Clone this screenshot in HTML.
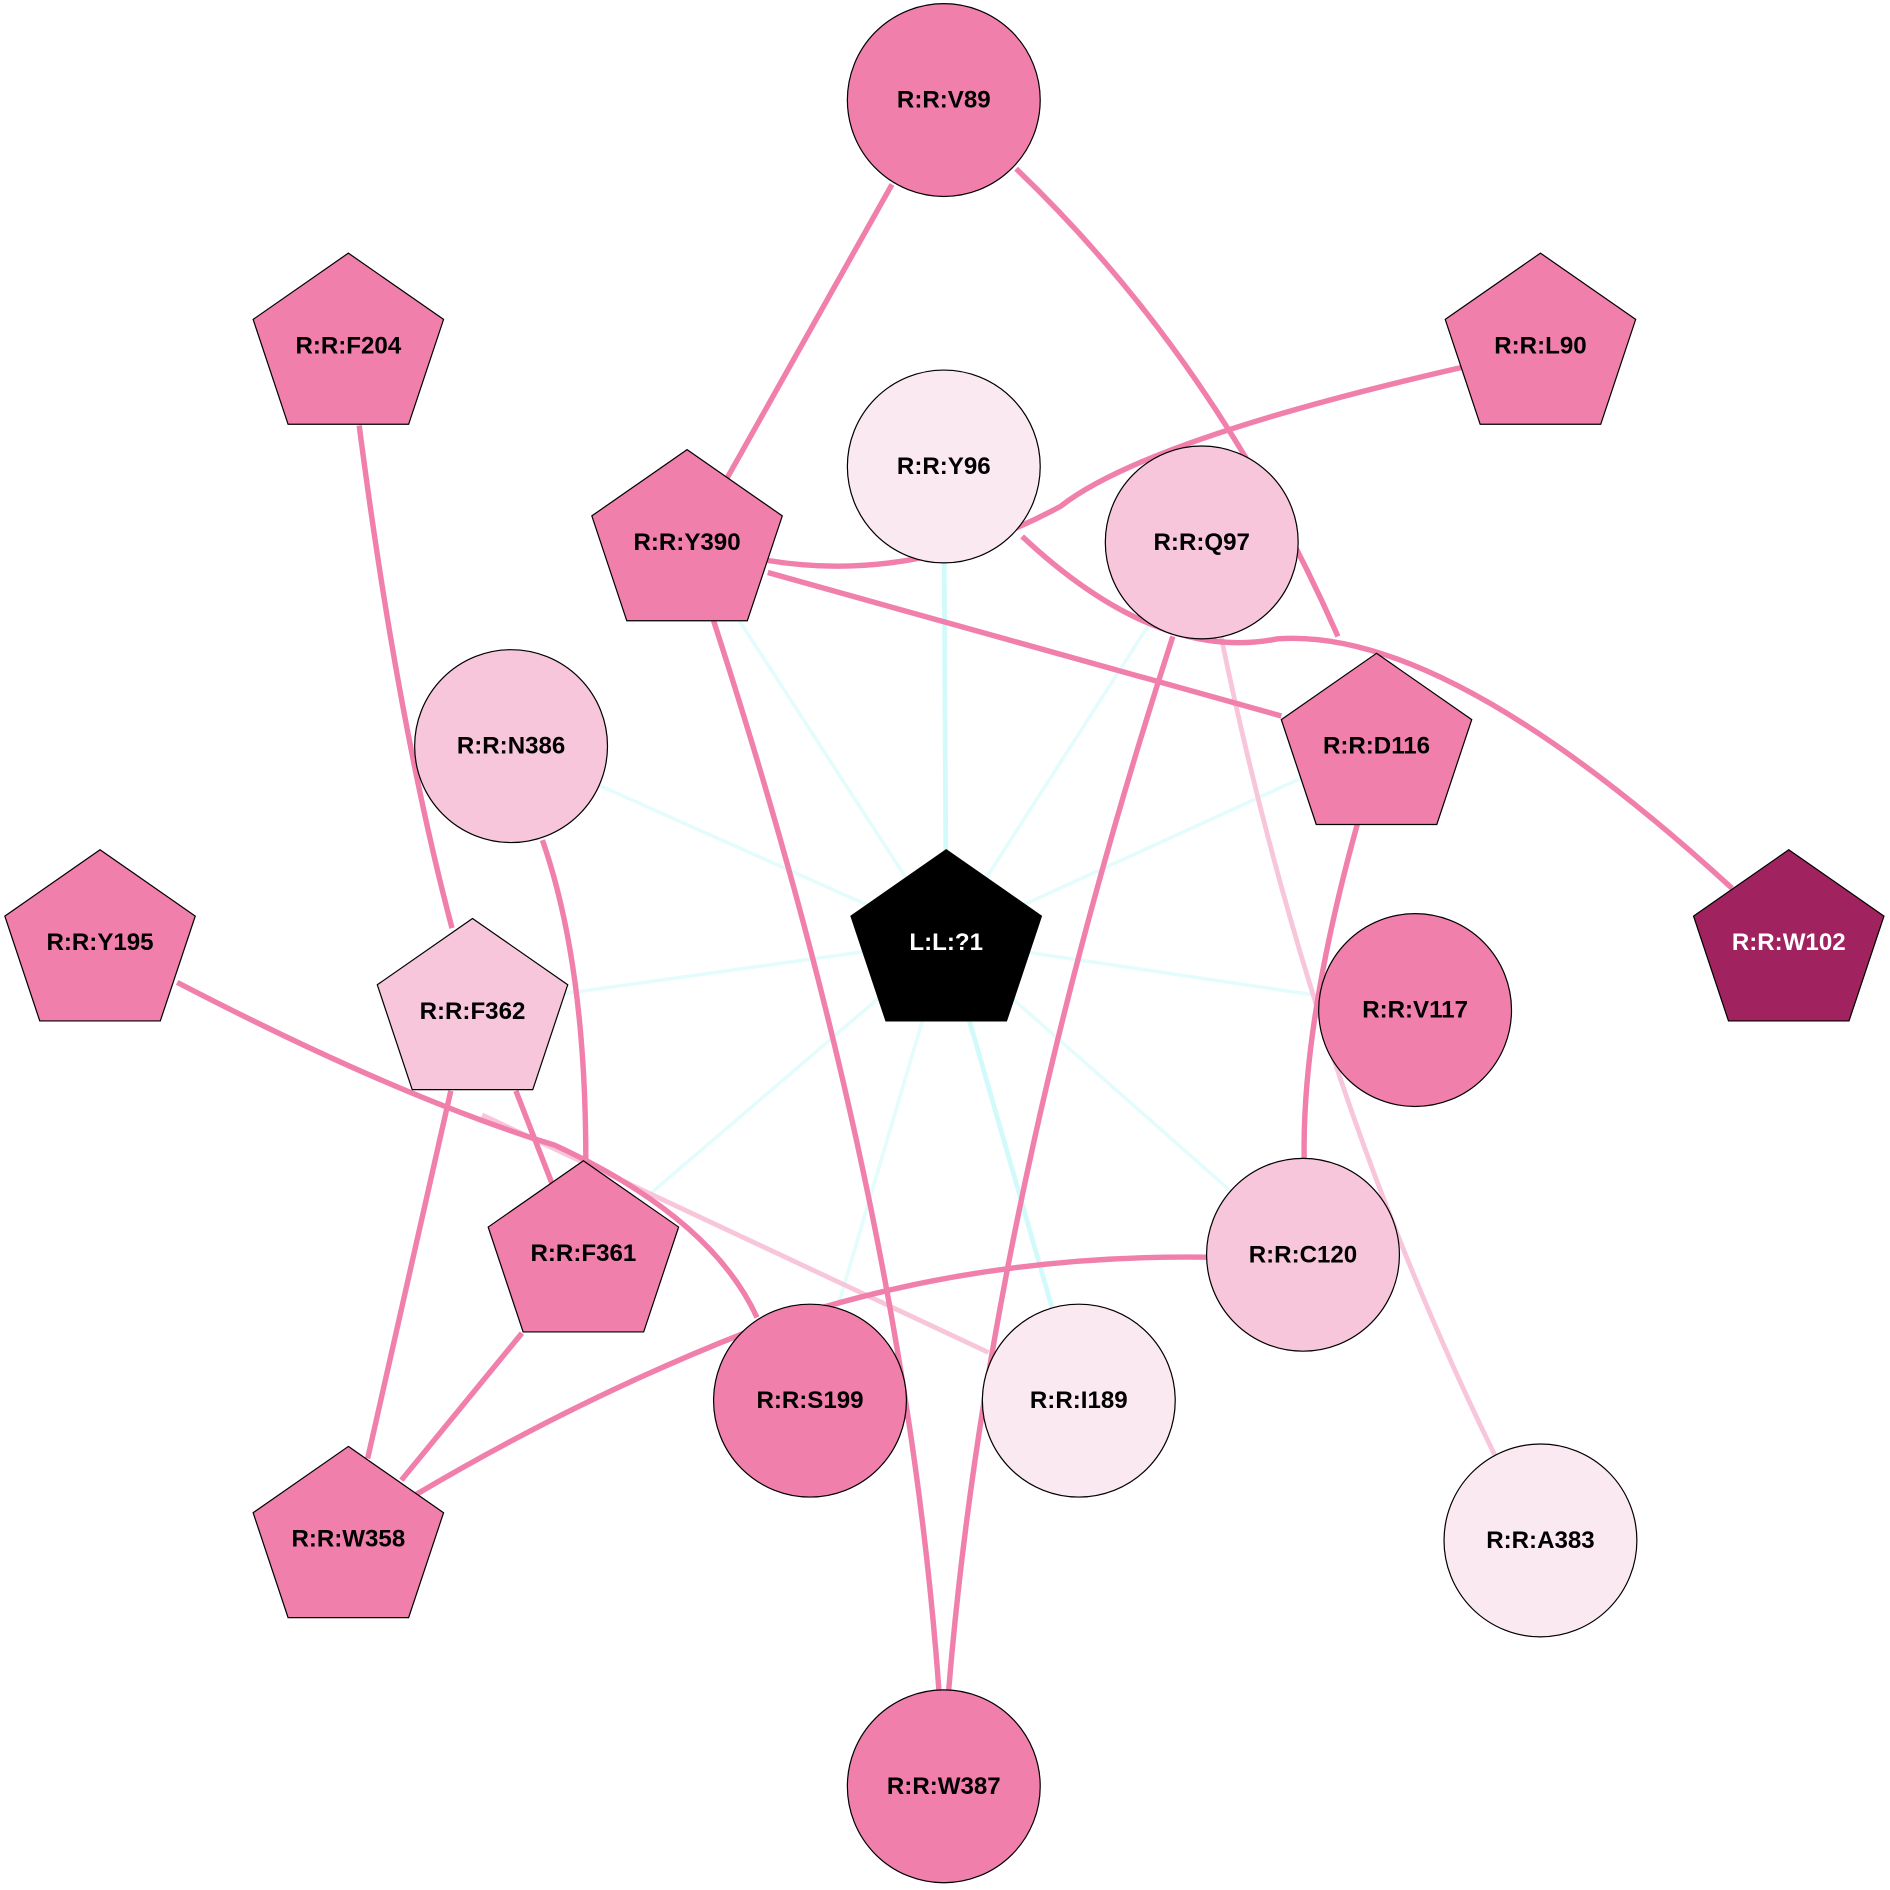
<!DOCTYPE html>
<html><head><meta charset="utf-8"><style>
html,body{margin:0;padding:0;background:#fff;width:1890px;height:1890px;overflow:hidden}
svg text{font-family:"Liberation Sans",Arial,sans-serif;font-weight:bold;font-size:20px;text-anchor:middle;dominant-baseline:central}
</style></head><body>
<svg width="1890" height="1890" viewBox="0 0 1568 1568" xmlns="http://www.w3.org/2000/svg">
<defs>
<polygon id="pent" points="0,-77 79,-22 50,65 -50,65 -79,-22"/>
</defs>
<rect width="1568" height="1568" fill="#fff"/>
<!-- cyan edges -->
<g stroke="#e4fcfc" stroke-width="3" fill="none">
<line x1="785" y1="780" x2="997" y2="450"/>
<line x1="785" y1="780" x2="570" y2="448"/>
<line x1="785" y1="780" x2="424" y2="619"/>
<line x1="785" y1="780" x2="1142" y2="617"/>
<line x1="785" y1="780" x2="392" y2="835"/>
<line x1="785" y1="780" x2="1174" y2="838"/>
<line x1="785" y1="780" x2="1081" y2="1041"/>
<line x1="785" y1="780" x2="484" y2="1038"/>
<line x1="785" y1="780" x2="672" y2="1162"/>
</g>
<g stroke="#d2fafa" stroke-width="4" fill="none">
<line x1="785" y1="780" x2="783" y2="387"/>
<line x1="785" y1="780" x2="895" y2="1162"/>
</g>
<!-- light pink edges -->
<g stroke="#f8c6da" stroke-width="4" fill="none">
<path d="M1013,528 Q1090,900 1240,1207"/>
<line x1="400" y1="925" x2="820" y2="1122"/>
</g>
<!-- pink edges -->
<g stroke="#f07fac" stroke-width="4.5" fill="none">
<line x1="740" y1="153" x2="603" y2="397"/>
<path d="M843,140 Q1010,300 1110,528"/>
<path d="M637,465 Q760,485 880,420 Q950,365 1212,305"/>
<path d="M848,445 Q960,550 1060,530 Q1200,520 1437,737"/>
<line x1="637" y1="475" x2="1063" y2="594"/>
<path d="M592,515 Q750,1000 779,1403"/>
<path d="M973,528 Q820,1000 787,1403"/>
<path d="M298,353 Q330,600 375,770"/>
<path d="M450,697 Q486,800 486,962"/>
<path d="M147,815 Q330,910 460,950 Q590,1010 628,1093"/>
<line x1="428" y1="905" x2="458" y2="982"/>
<line x1="374" y1="905" x2="305" y2="1210"/>
<line x1="433" y1="1106" x2="333" y2="1228"/>
<path d="M1002,1043 Q800,1040 620,1105 Q480,1160 345,1240"/>
<path d="M1126,684 Q1080,850 1082,962"/>
</g>
<!-- nodes -->
<g stroke="#000" stroke-width="1">
<circle cx="783" cy="83" r="80" fill="#f07fac"/>
<use href="#pent" x="289" y="287" fill="#f07fac"/>
<use href="#pent" x="1278" y="287" fill="#f07fac"/>
<circle cx="783" cy="387" r="80" fill="#fbe9f1"/>
<circle cx="997" cy="450" r="80" fill="#f8c6da"/>
<use href="#pent" x="570" y="450" fill="#f07fac"/>
<circle cx="424" cy="619" r="80" fill="#f8c6da"/>
<use href="#pent" x="1142" y="619" fill="#f07fac"/>
<use href="#pent" x="785" y="782" fill="#000"/>
<use href="#pent" x="83" y="782" fill="#f07fac"/>
<use href="#pent" x="392" y="839" fill="#f8c6da"/>
<use href="#pent" x="1484" y="782" fill="#a0235f"/>
<circle cx="1174" cy="838" r="80" fill="#f07fac"/>
<use href="#pent" x="484" y="1040" fill="#f07fac"/>
<circle cx="1081" cy="1041" r="80" fill="#f8c6da"/>
<circle cx="672" cy="1162" r="80" fill="#f07fac"/>
<circle cx="895" cy="1162" r="80" fill="#fbe9f1"/>
<use href="#pent" x="289" y="1277" fill="#f07fac"/>
<circle cx="1278" cy="1278" r="80" fill="#fbe9f1"/>
<circle cx="783" cy="1482" r="80" fill="#f07fac"/>
</g>
<g fill="#000">
<text x="783" y="83">R:R:V89</text>
<text x="289" y="287">R:R:F204</text>
<text x="1278" y="287">R:R:L90</text>
<text x="783" y="387">R:R:Y96</text>
<text x="997" y="450">R:R:Q97</text>
<text x="570" y="450">R:R:Y390</text>
<text x="424" y="619">R:R:N386</text>
<text x="1142" y="619">R:R:D116</text>
<text x="785" y="782" fill="#fff">L:L:?1</text>
<text x="83" y="782">R:R:Y195</text>
<text x="392" y="839">R:R:F362</text>
<text x="1484" y="782" fill="#fff">R:R:W102</text>
<text x="1174" y="838">R:R:V117</text>
<text x="484" y="1040">R:R:F361</text>
<text x="1081" y="1041">R:R:C120</text>
<text x="672" y="1162">R:R:S199</text>
<text x="895" y="1162">R:R:I189</text>
<text x="289" y="1277">R:R:W358</text>
<text x="1278" y="1278">R:R:A383</text>
<text x="783" y="1482">R:R:W387</text>
</g>
</svg>
</body></html>
